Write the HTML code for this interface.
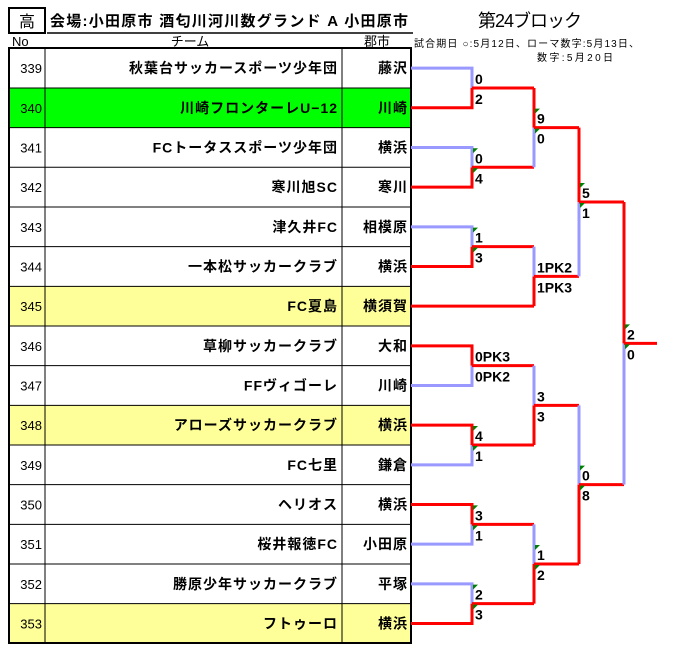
<!DOCTYPE html>
<html><head><meta charset="utf-8"><style>
html,body{margin:0;padding:0;background:#fff;}
svg{display:block;}
text{font-family:"Liberation Sans","Noto Sans CJK JP",sans-serif;}
.t{font-size:14px;font-weight:bold;text-anchor:end;letter-spacing:1px;}
.n{font-size:13px;}
.s{font-size:14px;font-weight:bold;}
.b{stroke:#9999ff;stroke-width:3;fill:none;}
.r{stroke:#ff0000;stroke-width:3;fill:none;}
</style></head><body>
<svg width="683" height="663" viewBox="0 0 683 663" xmlns="http://www.w3.org/2000/svg">
<rect x="9" y="8" width="36" height="25" fill="#fff" stroke="#000" stroke-width="2"/>
<text x="27" y="27" font-size="16" text-anchor="middle">高</text>
<text x="50" y="26" font-size="15" font-weight="bold" textLength="358" lengthAdjust="spacing">会場:小田原市  酒匂川河川数グランド  A  小田原市</text>
<line x1="47" y1="33" x2="413" y2="33" stroke="#000" stroke-width="1.5"/>
<text x="478" y="27" font-size="18" textLength="104">第24ブロック</text>
<text x="12" y="46" font-size="13">No</text>
<text x="190" y="46" font-size="13" text-anchor="middle">チーム</text>
<text x="364" y="46" font-size="13">郡市</text>
<text x="414" y="47" font-size="10" textLength="225" lengthAdjust="spacing">試合期日  ○:5月12日、ローマ数字:5月13日、</text>
<text x="537" y="61" font-size="10" textLength="76" lengthAdjust="spacing">数字:5月20日</text>
<g id="tbl"></g>
<rect x="9" y="48" width="402" height="595" fill="none" stroke="#000" stroke-width="2"/>
<g id="br"></g>
</svg>
<script>
var teams=[["339","秋葉台サッカースポーツ少年団","藤沢",""],["340","川崎フロンターレU−12","川崎","#00ff00"],["341","FCトータススポーツ少年団","横浜",""],["342","寒川旭SC","寒川",""],["343","津久井FC","相模原",""],["344","一本松サッカークラブ","横浜",""],["345","FC夏島","横須賀","#ffff99"],["346","草柳サッカークラブ","大和",""],["347","FFヴィゴーレ","川崎",""],["348","アローズサッカークラブ","横浜","#ffff99"],["349","FC七里","鎌倉",""],["350","ヘリオス","横浜",""],["351","桜井報徳FC","小田原",""],["352","勝原少年サッカークラブ","平塚",""],["353","フトゥーロ","横浜","#ffff99"]];
var h='',H=39.67,T=48.3;
teams.forEach(function(t,i){var y=T+i*H;
 if(t[3])h+='<rect x="9" y="'+y+'" width="402" height="'+H+'" fill="'+t[3]+'"/>';
 h+='<line x1="9" y1="'+y+'" x2="411" y2="'+y+'" stroke="#000" stroke-width="1"/>';
 var c=y+H/2+5;
 h+='<text class="n" x="42" y="'+c+'" text-anchor="end">'+t[0]+'</text>';
 h+='<text class="t" x="338" y="'+c+'">'+t[1]+'</text>';
 h+='<text class="t" x="408" y="'+c+'">'+t[2]+'</text>';
});
h+='<line x1="45" y1="48" x2="45" y2="643" stroke="#000"/><line x1="342" y1="48" x2="342" y2="643" stroke="#000"/>';
document.getElementById('tbl').innerHTML=h;
function cy(i){return T+i*H+H/2;}
var b='';
function P(cls,pts){b+='<polyline class="'+cls+'" points="'+pts.map(function(p){return p.join(',')}).join(' ')+'"/>';}
function M(y1,y2,x1,x2,xe,top,s1,s2,tri){
 var m=(y1+y2)/2;
 P(top?'b':'r',[[x1,y2],[x2,y2],[x2,m]]);
 P(top?'r':'b',[[x1,y1],[x2,y1],[x2,m]]);
 P('r',[[x2,m],[xe,m]]);
 b+='<text class="s" x="'+(x2+3)+'" y="'+(m-4)+'">'+s1+'</text>';
 b+='<text class="s" x="'+(x2+3)+'" y="'+(m+16)+'">'+s2+'</text>';
 if(tri){b+='<polygon points="'+(x2+1)+','+(m-19)+' '+(x2+6)+','+(m-19)+' '+(x2+1)+','+(m-14)+'" fill="#008000"/>';
 b+='<polygon points="'+(x2+1)+','+(m+1)+' '+(x2+6)+','+(m+1)+' '+(x2+1)+','+(m+6)+'" fill="#008000"/>';}
 return m;
}
var X0=411,X1=472,X2=534,X3=579,X4=624,X5=657;
var a=M(cy(0),cy(1),X0,X1,X2,false,'0','2',false);
var c=M(cy(2),cy(3),X0,X1,X2,false,'0','4',true);
var d=M(a,c,X2,X2,X3,true,'9','0',true);
var e=M(cy(4),cy(5),X0,X1,X2,false,'1','3',true);
var f=M(e,cy(6),X2,X2,X3,false,'1PK2','1PK3',false);
P('r',[[X0,cy(6)],[X2,cy(6)]]);
var g=M(d,f,X3,X3,X4,true,'5','1',true);
var k=M(cy(7),cy(8),X0,X1,X2,true,'0PK3','0PK2',false);
var l=M(cy(9),cy(10),X0,X1,X2,true,'4','1',true);
var m2=M(k,l,X2,X2,X3,false,'3','3',false);
var n=M(cy(11),cy(12),X0,X1,X2,true,'3','1',true);
var o=M(cy(13),cy(14),X0,X1,X2,false,'2','3',true);
var p=M(n,o,X2,X2,X3,false,'1','2',true);
var q=M(m2,p,X3,X3,X4,false,'0','8',true);
M(g,q,X4,X4,X5,true,'2','0',true);
document.getElementById('br').innerHTML=b;
</script>
</body></html>
